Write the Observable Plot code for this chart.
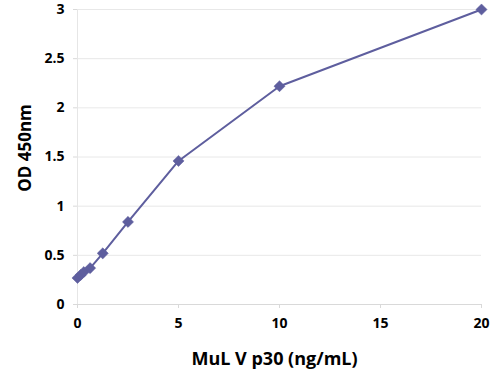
<!DOCTYPE html>
<html><head><meta charset="utf-8">
<script src="https://cdn.jsdelivr.net/npm/d3@7"></script>
<script src="https://cdn.jsdelivr.net/npm/@observablehq/plot@0.6"></script>
<style>
body{margin:0;background:#fff;}
#chart svg{font-family:"Open Sans",Lato,sans-serif;}
</style></head>
<body><div id="chart"></div>
<script>
const conc = [0, 0.156, 0.3125, 0.625, 1.25, 2.5, 5, 10, 20];
const od = [0.27, 0.30, 0.33, 0.37, 0.52, 0.84, 1.46, 2.22, 3.0];
const xTicks = [0, 5, 10, 15, 20];
const yTicks = [0, 0.5, 1, 1.5, 2, 2.5, 3];
const data = conc.map((c, i) => ({c, v: od[i]}));
const color = "#5e5e9e";
const fmt = d => String(d);
const chart = Plot.plot({
  width: 500, height: 378,
  marginLeft: 77, marginRight: 19, marginTop: 9, marginBottom: 74,
  style: {fontSize: "14px", fontWeight: "bold", color: "#000", background: "#fff"},
  x: {domain: [0, 20], ticks: xTicks, label: null},
  y: {domain: [0, 3], ticks: yTicks, label: null},
  marks: [
    Plot.gridY(yTicks, {stroke: "#d9d9d9", strokeOpacity: 0.6}),
    Plot.ruleY([0], {stroke: "#d9d9d9"}),
    Plot.ruleX([0], {stroke: "#e6e6e6"}),
    Plot.axisX(xTicks, {tickSize: 4, tickPadding: 10, tickFormat: fmt, stroke: "#d9d9d9", fill: "#000", fontSize: 14, fontWeight: "bold", label: null}),
    Plot.axisY(yTicks, {tickSize: 4, tickPadding: 9, tickFormat: fmt, stroke: "#d9d9d9", fill: "#000", fontSize: 14, fontWeight: "bold", label: null}),
    Plot.line(data, {x: "c", y: "v", stroke: color, strokeWidth: 2}),
    Plot.dot(data, {x: "c", y: "v", symbol: "diamond2", r: 5, fill: color, stroke: color, strokeWidth: 0.5}),
    Plot.text(["MuL V p30 (ng/mL)"], {frameAnchor: "bottom", dx: -5, dy: 60, fontSize: 18, fontWeight: "bold", fill: "#000"}),
    Plot.text(["OD 450nm"], {frameAnchor: "left", textAnchor: "middle", dx: -52, dy: -9, rotate: -90, fontSize: 17, fontWeight: "bold", fill: "#000"})
  ]
});
document.getElementById("chart").append(chart);
</script></body></html>
